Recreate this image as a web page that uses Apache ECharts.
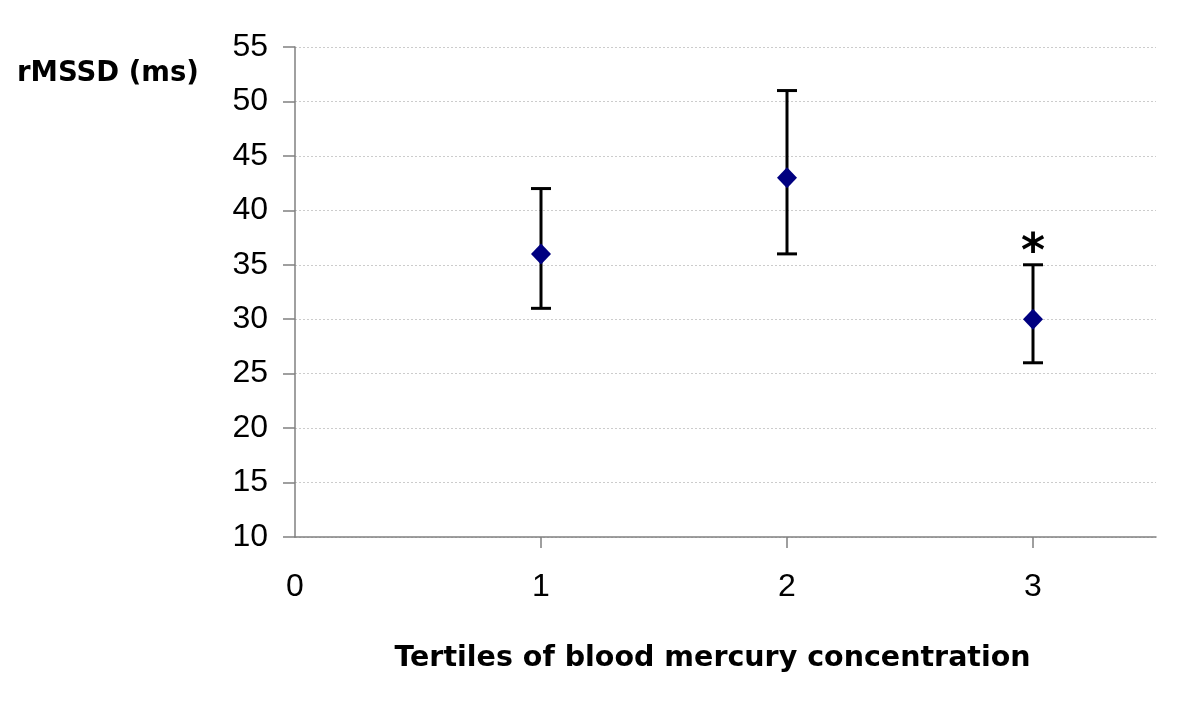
<!DOCTYPE html>
<html>
<head>
<meta charset="utf-8">
<script src="https://cdn.jsdelivr.net/npm/echarts@6/dist/echarts.min.js"></script>
<style>html,body{margin:0;padding:0;background:#fff}#c{width:1200px;height:722px}</style>
</head>
<body>
<div id="c"></div>
<script>
const tertiles = [1, 2, 3];
const means = [36, 43, 30];
const lower = [31, 36, 26];
const upper = [42, 51, 35];
const marks = ['', '', '*'];
const yTicks = [10, 15, 20, 25, 30, 35, 40, 45, 50, 55];
const xTicks = [0, 1, 2, 3];
const yTitle = 'rMSSD (ms)';
const xTitle = 'Tertiles of blood mercury concentration';

const chart = echarts.init(document.getElementById('c'));
const errData = tertiles.map((t, i) => [t, lower[i], upper[i], marks[i]]);
chart.setOption({
  animation: false,
  backgroundColor: '#fff',
  title: {
    text: yTitle, left: 12, top: 55,
    textStyle: { fontFamily: 'DejaVu Sans', fontWeight: 'bold', fontSize: 27.5, color: '#000' }
  },
  grid: { left: 295, right: 44, top: 47, bottom: 185 },
  xAxis: {
    type: 'value', min: 0, max: 3.5, interval: 1,
    name: xTitle, nameLocation: 'middle', nameGap: 107,
    nameTextStyle: { fontFamily: 'DejaVu Sans', fontWeight: 'bold', fontSize: 28.5, color: '#000', padding: [0, 26, 0, 0] },
    axisLine: { show: true, lineStyle: { color: '#808080', width: 1.5 } },
    axisTick: { show: true, length: 11, customValues: [1, 2, 3], lineStyle: { color: '#808080', width: 1.5 } },
    axisLabel: { customValues: xTicks, margin: 34, fontFamily: 'Liberation Sans', fontSize: 32, color: '#000' },
    splitLine: { show: false }
  },
  yAxis: {
    type: 'value', min: 10, max: 55, interval: 5,
    axisLine: { show: true, lineStyle: { color: '#808080', width: 1.5 } },
    axisTick: { show: true, length: 12, customValues: yTicks, lineStyle: { color: '#808080', width: 1.5 } },
    axisLabel: { customValues: yTicks, margin: 27, fontFamily: 'Liberation Sans', fontSize: 32, color: '#000' },
    splitLine: { show: true, lineStyle: { color: '#cccccc', type: [2, 2], width: 1 } }
  },
  series: [
    {
      type: 'custom',
      data: errData,
      z: 2,
      renderItem: function (params, api) {
        const x = api.value(0);
        const lo = api.coord([x, api.value(1)]);
        const hi = api.coord([x, api.value(2)]);
        const cap = 10;
        const st = { stroke: '#000', lineWidth: 3 };
        const children = [
          { type: 'line', shape: { x1: lo[0], y1: lo[1], x2: hi[0], y2: hi[1] }, style: st },
          { type: 'line', shape: { x1: lo[0] - cap, y1: lo[1], x2: lo[0] + cap, y2: lo[1] }, style: st },
          { type: 'line', shape: { x1: hi[0] - cap, y1: hi[1], x2: hi[0] + cap, y2: hi[1] }, style: st }
        ];
        const m = api.value(3);
        if (m) {
          children.push({ type: 'text', style: { text: m, x: hi[0], y: hi[1] + 12, align: 'center', verticalAlign: 'bottom',
            font: 'bold 46px "DejaVu Sans"', fill: '#000' } });
        }
        return { type: 'group', children: children };
      }
    },
    {
      type: 'scatter',
      data: tertiles.map((t, i) => [t, means[i]]),
      symbol: 'diamond',
      symbolSize: [20, 21],
      itemStyle: { color: '#000080', opacity: 1 },
      z: 3
    }
  ]
});
</script>
</body>
</html>
